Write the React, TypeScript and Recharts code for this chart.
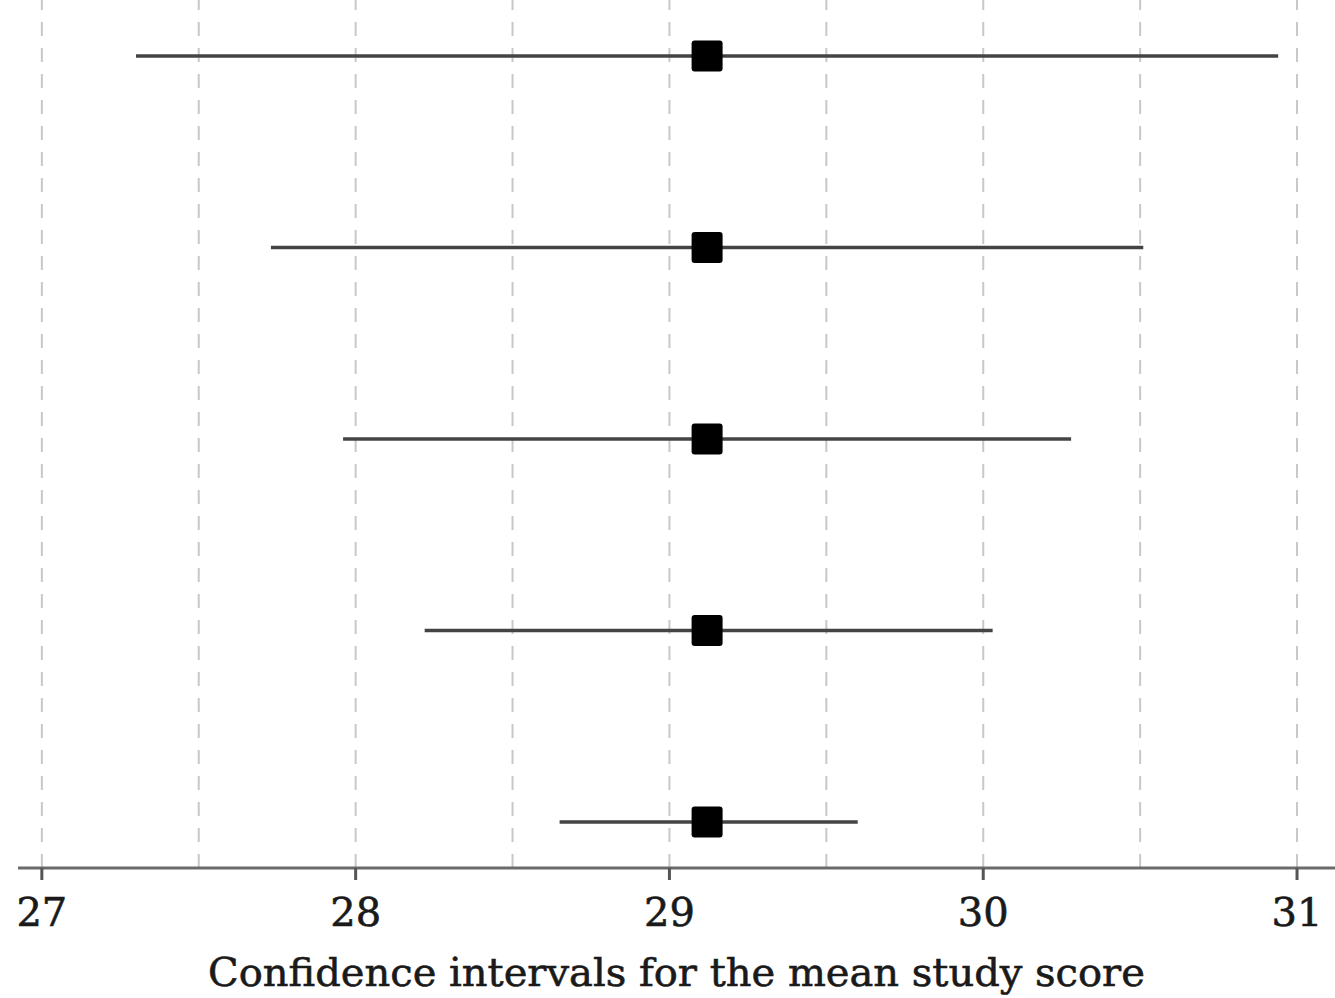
import React from 'react';
import { ScatterChart, Scatter, XAxis, YAxis, ErrorBar, ReferenceLine } from 'recharts';

// rows from top (5) to bottom (1)
const rows = [5, 4, 3, 2, 1];
const means = [29.12, 29.12, 29.12, 29.12, 29.12];
const lowers = [27.3, 27.73, 27.96, 28.22, 28.65];
const uppers = [30.94, 30.51, 30.28, 30.03, 29.6];

const xTicks = [27, 28, 29, 30, 31];
const gridValues = [27, 27.5, 28, 28.5, 29, 29.5, 30, 30.5, 31];

const FONT = '"DejaVu Serif", "Liberation Serif", serif';

const data = rows.map((row, i) => ({
  row,
  mean: means[i],
  err: [means[i] - lowers[i], uppers[i] - means[i]],
}));

const SquareMarker = (props: any) => {
  const { cx, cy } = props;
  if (cx == null || cy == null) return null;
  const s = 31;
  return <rect x={cx - s / 2} y={cy - s / 2} width={s} height={s} rx={3} ry={3} fill="#000" />;
};

export default function App() {
  return (
    <div style={{ width: 1335, height: 998, background: '#fff' }}>
      <style>{'body{margin:0}'}</style>
      <ScatterChart width={1335} height={998} margin={{ top: 0, right: 0, bottom: 0, left: 18 }}>
        <XAxis
          type="number"
          dataKey="mean"
          domain={[26.924, 31.121]}
          allowDataOverflow
          ticks={xTicks}
          interval={0}
          height={130}
          tickSize={12}
          tickMargin={18}
          axisLine={{ stroke: '#6a6a6a', strokeWidth: 3 }}
          tickLine={{ stroke: '#555', strokeWidth: 3 }}
          tick={{ fill: '#1a1a1a', stroke: '#1a1a1a', strokeWidth: 0.6, fontSize: 40, fontFamily: FONT }}
          label={{
            value: 'Confidence intervals for the mean study score',
            position: 'insideBottom',
            offset: 12,
            fill: '#1a1a1a',
            stroke: '#1a1a1a',
            strokeWidth: 0.6,
            fontSize: 40,
            fontFamily: FONT,
          }}
        />
        <YAxis type="number" dataKey="row" domain={[0.76, 5.293]} allowDataOverflow hide />
        {gridValues.map((v) => (
          <ReferenceLine
            key={v}
            x={v}
            stroke="#c8c8c8"
            strokeWidth={2}
            strokeDasharray="14 12"
          />
        ))}
        <Scatter data={data} shape={<SquareMarker />} isAnimationActive={false}>
          <ErrorBar
            dataKey="err"
            direction="x"
            width={0}
            stroke="#444"
            strokeWidth={3.5}
            isAnimationActive={false}
          />
        </Scatter>
      </ScatterChart>
    </div>
  );
}
